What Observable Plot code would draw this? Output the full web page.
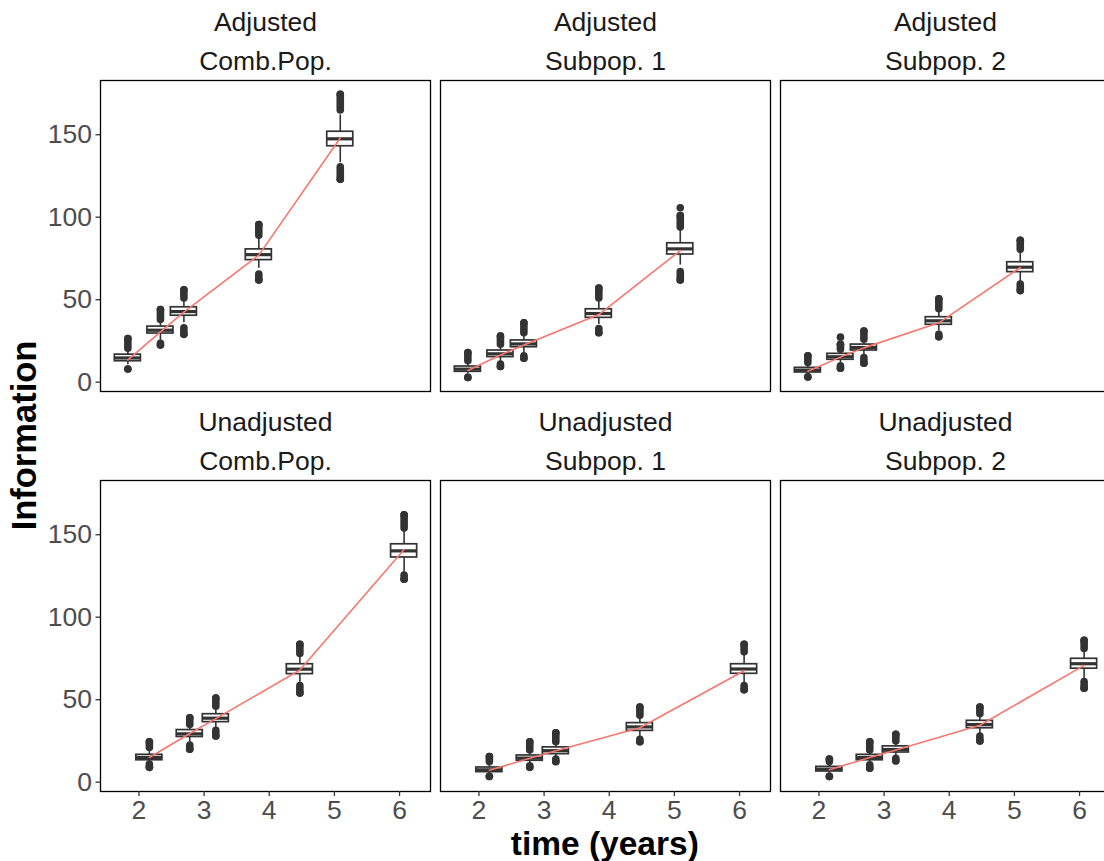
<!DOCTYPE html>
<html><head><meta charset="utf-8">
<script src="https://cdn.jsdelivr.net/npm/d3@7"></script>
<script src="https://cdn.jsdelivr.net/npm/@observablehq/plot@0.6"></script>
<style>
html,body{margin:0;padding:0;background:#fff;overflow:hidden;}
#chart{width:1104px;height:861px;position:relative;overflow:hidden;}
</style></head><body><div id="chart"></div>
<script>
// ---- data ----
const adjustment = ["Adjusted", "Unadjusted"];
const population = ["Comb.Pop.", "Subpop. 1", "Subpop. 2"];
const timeAdjusted = [1.83, 2.33, 2.69, 3.84, 5.09];
const timeUnadjusted = [2.16, 2.78, 3.18, 4.47, 6.07];
const xTicks = [2, 3, 4, 5, 6];
const yTicks = [0, 50, 100, 150];

// panel order: Adjusted Comb.Pop., Adjusted Subpop. 1, Adjusted Subpop. 2,
//              Unadjusted Comb.Pop., Unadjusted Subpop. 1, Unadjusted Subpop. 2
const q1 = [
  [12.7, 29.5, 40.3, 74.0, 143.0],
  [6.3, 15.2, 21.2, 39.0, 77.4],
  [5.9, 13.6, 19.2, 34.8, 66.7],
  [13.3, 27.4, 36.4, 65.5, 136.2],
  [6.1, 13.0, 17.0, 31.1, 65.7],
  [6.5, 13.3, 18.0, 32.7, 68.8]
];
const median = [
  [14.7, 31.5, 42.8, 77.3, 147.5],
  [7.9, 17.2, 23.2, 41.6, 80.8],
  [7.3, 15.4, 21.0, 37.2, 69.7],
  [15.0, 29.3, 38.8, 68.5, 140.2],
  [7.5, 14.6, 19.1, 33.5, 68.6],
  [7.9, 15.0, 19.8, 34.9, 71.8]
];
const q3 = [
  [16.7, 33.7, 45.4, 80.5, 151.8],
  [9.5, 19.2, 25.3, 44.2, 84.2],
  [8.7, 17.2, 22.8, 39.4, 72.7],
  [16.6, 31.6, 41.2, 71.5, 144.2],
  [8.9, 16.2, 21.1, 35.8, 71.5],
  [9.3, 16.6, 21.7, 37.2, 74.8]
];
const whiskerLow = [
  [10.5, 25.0, 36.0, 69.0, 133.0],
  [5.0, 12.5, 17.5, 35.0, 71.0],
  [4.5, 11.0, 16.5, 31.0, 61.0],
  [11.5, 23.0, 32.0, 59.5, 127.0],
  [5.0, 11.0, 15.0, 27.0, 60.0],
  [5.0, 11.5, 15.5, 29.0, 62.0]
];
const whiskerHigh = [
  [19.0, 37.0, 49.5, 86.5, 162.0],
  [12.0, 22.0, 29.0, 49.0, 92.0],
  [11.0, 19.0, 25.0, 43.0, 79.0],
  [19.5, 34.0, 45.0, 76.0, 153.0],
  [11.0, 18.5, 23.5, 39.5, 77.0],
  [11.0, 18.5, 24.0, 40.5, 80.0]
];
// span of the stacked outlier points above and below each box
const outlierHighFrom = [
  [20.5, 38.0, 51.0, 89.0, 165.0],
  [13.0, 23.0, 30.0, 51.0, 94.0],
  [12.0, 20.0, 26.0, 44.5, 80.5],
  [21.0, 35.0, 46.0, 78.0, 154.0],
  [12.5, 19.5, 24.5, 40.5, 79.0],
  [12.5, 19.5, 25.0, 41.5, 81.0]
];
const outlierHighTo = [
  [26.5, 44.0, 56.0, 95.5, 174.5],
  [18.0, 28.0, 36.0, 57.0, 101.0],
  [16.0, 23.0, 31.0, 50.5, 86.0],
  [24.5, 39.0, 51.0, 83.5, 162.0],
  [15.5, 24.5, 30.0, 45.5, 83.5],
  [14.0, 24.5, 29.0, 45.5, 86.0]
];
const outlierLowFrom = [
  [8.0, 22.5, 29.0, 62.0, 123.0],
  [2.9, 9.5, 14.5, 30.0, 62.0],
  [3.2, 8.5, 11.5, 27.5, 55.5],
  [9.0, 20.0, 28.0, 54.0, 123.0],
  [3.5, 9.0, 12.5, 24.5, 56.0],
  [3.5, 8.5, 13.0, 25.0, 57.0]
];
const outlierLowTo = [
  [8.0, 23.5, 33.0, 65.5, 130.5],
  [2.9, 11.0, 16.0, 32.5, 67.0],
  [3.2, 10.0, 15.0, 29.0, 59.5],
  [11.0, 22.5, 31.5, 58.5, 125.5],
  [3.5, 10.0, 14.0, 26.0, 58.5],
  [3.5, 10.5, 14.5, 28.0, 61.0]
];
// isolated outliers: panel, time index, value
const isolatedPanel = [1, 2];
const isolatedIndex = [4, 1];
const isolatedValue = [105.7, 27.3];
// red line values
const lineValue = [
  [13.5, 30.5, 42.5, 77.0, 148.0],
  [7.1, 16.5, 22.5, 41.0, 79.8],
  [6.6, 15.2, 20.8, 36.0, 69.5],
  [15.0, 29.5, 38.5, 68.0, 141.0],
  [7.2, 14.5, 19.0, 33.0, 67.5],
  [7.5, 15.0, 19.5, 34.5, 70.8]
];

// ---- build tables ----
const rows = [];
const titles = [];
adjustment.forEach((adj, a) => {
  population.forEach((pop, c) => {
    const p = a * 3 + c;
    titles.push({adj, pop, label: adj + "\n" + pop});
    const times = a === 0 ? timeAdjusted : timeUnadjusted;
    times.forEach((t, i) => {
      rows.push({
        adj, pop, time: t,
        q1: q1[p][i], med: median[p][i], q3: q3[p][i],
        wlo: whiskerLow[p][i], whi: whiskerHigh[p][i],
        hiA: outlierHighFrom[p][i], hiB: outlierHighTo[p][i],
        loA: outlierLowFrom[p][i], loB: outlierLowTo[p][i],
        line: lineValue[p][i]
      });
    });
  });
});
const isolated = isolatedPanel.map((p, k) => {
  const a = Math.floor(p / 3), c = p % 3;
  const times = a === 0 ? timeAdjusted : timeUnadjusted;
  return {adj: adjustment[a], pop: population[c], time: times[isolatedIndex[k]], value: isolatedValue[k]};
});

const half = 0.2;
const ink = "#333333";
const F = {fx: "pop", fy: "adj"};
const font = '"Liberation Sans", Arial, Helvetica, sans-serif';

const plot = Plot.plot({
  width: 1104, height: 861,
  marginLeft: 98.3, marginRight: -7.3, marginTop: 80, marginBottom: 70,
  fx: {domain: population, axis: null, paddingInner: 0.0293, paddingOuter: 0},
  fy: {domain: adjustment, axis: null, paddingInner: 0.2225, paddingOuter: 0},
  x: {domain: [1.41, 6.475]},
  y: {domain: [-5.64, 182.85]},
  style: {fontFamily: font, background: "white", overflow: "hidden"},
  marks: [
    Plot.ruleX(rows, {...F, x: "time", y1: "wlo", y2: "q1", stroke: ink, strokeWidth: 1.6}),
    Plot.ruleX(rows, {...F, x: "time", y1: "q3", y2: "whi", stroke: ink, strokeWidth: 1.6}),
    Plot.link(rows, {...F, x1: "time", x2: "time", y1: "hiA", y2: "hiB", stroke: ink, strokeWidth: 7.6, strokeLinecap: "round"}),
    Plot.link(rows, {...F, x1: "time", x2: "time", y1: "loA", y2: "loB", stroke: ink, strokeWidth: 7.6, strokeLinecap: "round"}),
    Plot.dot(rows, {...F, x: "time", y: "loA", r: 3.8, fill: ink, stroke: null}),
    Plot.dot(rows, {...F, x: "time", y: "hiB", r: 3.8, fill: ink, stroke: null}),
    Plot.dot(isolated, {...F, x: "time", y: "value", r: 3.8, fill: ink, stroke: null}),
    Plot.rect(rows, {...F, x1: d => d.time - half, x2: d => d.time + half, y1: "q1", y2: "q3", fill: "white", stroke: ink, strokeWidth: 1.7}),
    Plot.ruleY(rows, {...F, y: "med", x1: d => d.time - half, x2: d => d.time + half, stroke: ink, strokeWidth: 3.2}),
    Plot.line(rows, {...F, x: "time", y: "line", stroke: "#F8766D", strokeWidth: 1.6}),
    Plot.frame({stroke: "black", strokeWidth: 1.3}),
    Plot.axisX({facetAnchor: "bottom", ticks: xTicks, tickFormat: d3.format("d"), tickSize: 5, tickPadding: 3.5, fontSize: 26.5, stroke: ink, fill: "#4D4D4D", strokeWidth: 1.3, label: null}),
    Plot.axisY({facetAnchor: "left", ticks: yTicks, tickFormat: d3.format("d"), tickSize: 4.5, tickPadding: 4, fontSize: 26.5, stroke: ink, fill: "#4D4D4D", strokeWidth: 1.3, label: null}),
    Plot.text(titles, {...F, text: "label", frameAnchor: "top", lineAnchor: "bottom", dy: -10.7, lineHeight: 1.457, fontSize: 26.5, fill: "#1A1A1A"})
  ]
});

const svg = d3.select(plot);
svg.append("text")
  .attr("transform", "translate(36,435.5) rotate(-90)")
  .attr("text-anchor", "middle")
  .attr("font-family", font)
  .attr("font-weight", "bold")
  .attr("font-size", 34.5)
  .attr("fill", "black")
  .text("Information");
svg.append("text")
  .attr("x", 604.8).attr("y", 855)
  .attr("text-anchor", "middle")
  .attr("font-family", font)
  .attr("font-weight", "bold")
  .attr("font-size", 33.5)
  .attr("fill", "black")
  .text("time (years)");

document.getElementById("chart").appendChild(plot);
</script></body></html>
